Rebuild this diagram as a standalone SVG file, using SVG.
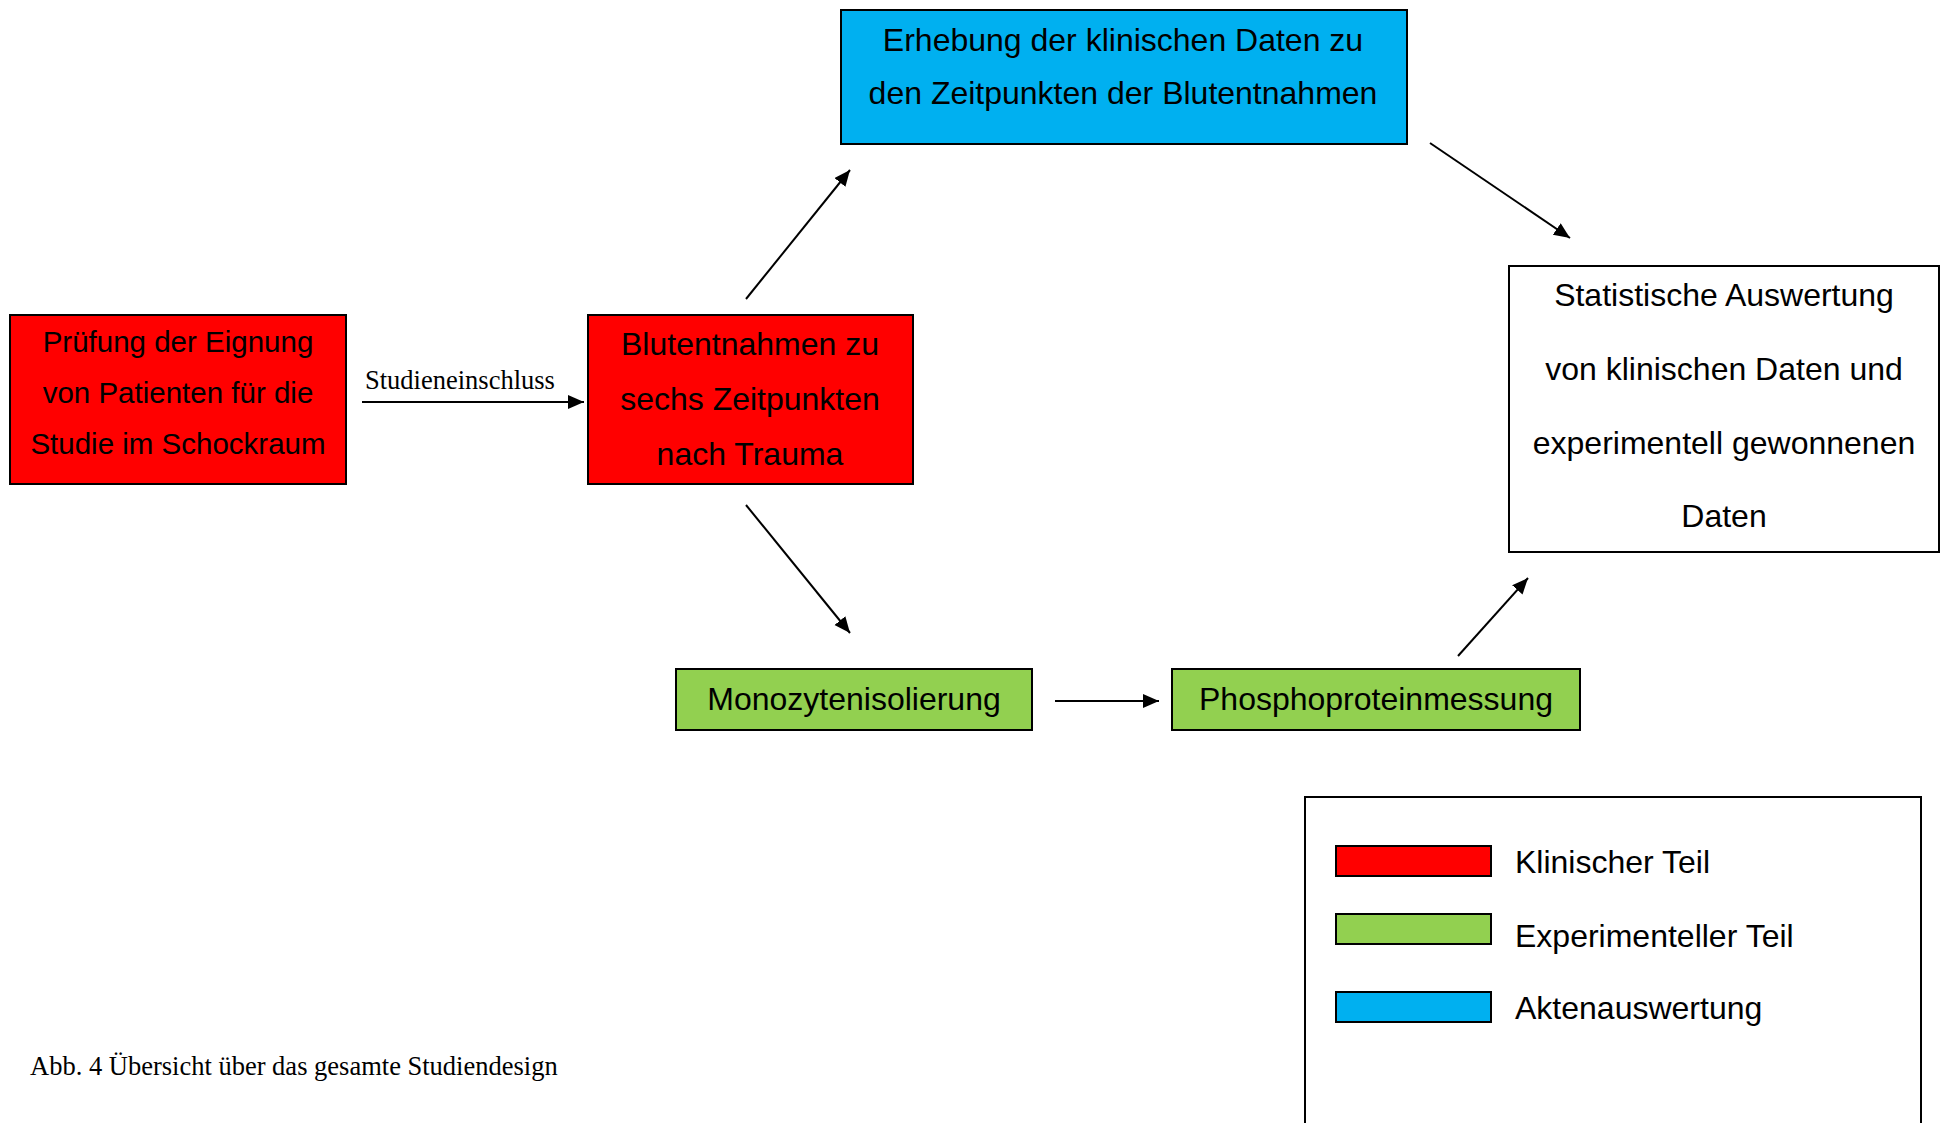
<svg xmlns="http://www.w3.org/2000/svg" width="1946" height="1123" viewBox="0 0 1946 1123">
<style>
.box{stroke:#000;stroke-width:2}
.red{fill:#FF0000}.blue{fill:#00B0F0}.green{fill:#92D050}.white{fill:#FFFFFF}
.t{font-family:"Liberation Sans",Arial,sans-serif;font-size:32px;fill:#000;text-anchor:middle}
.t1{font-family:"Liberation Sans",Arial,sans-serif;font-size:29.5px;fill:#000;text-anchor:middle}
.lg{font-family:"Liberation Sans",Arial,sans-serif;font-size:32px;fill:#000}
.serif{font-family:"Liberation Serif","Times New Roman",serif;font-size:26.5px;fill:#000}
.conn{stroke:#000;stroke-width:2;fill:none;marker-end:url(#ah)}
</style>
<defs>
<marker id="ah" markerUnits="userSpaceOnUse" markerWidth="18" markerHeight="16" refX="16" refY="7" orient="auto">
<path d="M0,0 L16,7 L0,14 z" fill="#000"/>
</marker>
</defs>
<rect width="1946" height="1123" fill="#FFFFFF"/>
<g id="connectors">
<line class="conn" x1="362" y1="402" x2="584" y2="402"/>
<line class="conn" x1="746" y1="299" x2="850" y2="170"/>
<line class="conn" x1="746" y1="505" x2="850" y2="633"/>
<line class="conn" x1="1430" y1="143" x2="1570" y2="238"/>
<line class="conn" x1="1055" y1="701" x2="1159" y2="701"/>
<line class="conn" x1="1458" y1="656" x2="1528" y2="578"/>
<text class="serif" x="365" y="389">Studieneinschluss</text>
</g>
<g id="node-pruefung">
<rect class="box red" x="10" y="315" width="336" height="169"/>
<text class="t1" x="178" y="352">Prüfung der Eignung</text>
<text class="t1" x="178" y="403">von Patienten für die</text>
<text class="t1" x="178" y="454">Studie im Schockraum</text>
</g>
<g id="node-blutentnahmen">
<rect class="box red" x="588" y="315" width="325" height="169"/>
<text class="t" x="750" y="355">Blutentnahmen zu</text>
<text class="t" x="750" y="410">sechs Zeitpunkten</text>
<text class="t" x="750" y="465">nach Trauma</text>
</g>
<g id="node-erhebung">
<rect class="box blue" x="841" y="10" width="566" height="134"/>
<text class="t" x="1123" y="51">Erhebung der klinischen Daten zu</text>
<text class="t" x="1123" y="104">den Zeitpunkten der Blutentnahmen</text>
</g>
<g id="node-statistik">
<rect class="box white" x="1509" y="266" width="430" height="286"/>
<text class="t" x="1724" y="306">Statistische Auswertung</text>
<text class="t" x="1724" y="380">von klinischen Daten und</text>
<text class="t" x="1724" y="454">experimentell gewonnenen</text>
<text class="t" x="1724" y="527">Daten</text>
</g>
<g id="node-monozyten">
<rect class="box green" x="676" y="669" width="356" height="61"/>
<text class="t" x="854" y="710">Monozytenisolierung</text>
</g>
<g id="node-phospho">
<rect class="box green" x="1172" y="669" width="408" height="61"/>
<text class="t" x="1376" y="710">Phosphoproteinmessung</text>
</g>
<g id="legend">
<rect x="1305" y="797" width="616" height="340" fill="none" stroke="#000" stroke-width="2"/>
<rect class="box red" x="1336" y="846" width="155" height="30"/>
<rect class="box green" x="1336" y="914" width="155" height="30"/>
<rect class="box blue" x="1336" y="992" width="155" height="30"/>
<text class="lg" x="1515" y="873">Klinischer Teil</text>
<text class="lg" x="1515" y="947">Experimenteller Teil</text>
<text class="lg" x="1515" y="1019">Aktenauswertung</text>
</g>
<text class="serif" x="30" y="1075">Abb. 4 Übersicht über das gesamte Studiendesign</text>
</svg>
